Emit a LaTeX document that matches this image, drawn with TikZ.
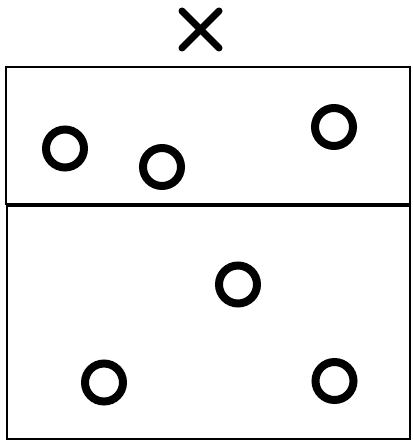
\documentclass[tikz,border=0pt]{standalone}
\begin{document}
\begin{tikzpicture}[x=1pt,y=-1pt,
  ring/.style={circle,draw,line width=8pt,minimum size=38pt,inner sep=0pt},
  box/.style={draw,line width=2.2pt,inner sep=0pt},
  crossline/.style={line width=7pt,line cap=round}]
\useasboundingbox[fill=white] (0,0) rectangle (412,444);
% boxes
\node[box,minimum width=404pt,minimum height=137pt] (topbox) at (208,135.5) {};
\node[box,minimum width=403pt,minimum height=233pt] (botbox) at (208.5,322.5) {};
% cross mark
\coordinate (xa) at (182,11);
\coordinate (xb) at (219,48);
\coordinate (xc) at (182,48);
\coordinate (xd) at (219,11);
\draw[crossline] (xa) -- (xb);
\draw[crossline] (xc) -- (xd);
% rings in the top box
\node[ring] (c1) at (65,148.5) {};
\node[ring] (c2) at (162,167) {};
\node[ring] (c3) at (334,127) {};
% rings in the bottom box
\node[ring] (c4) at (238,284.5) {};
\node[ring] (c5) at (104,382.5) {};
\node[ring] (c6) at (334.5,381) {};
\end{tikzpicture}
\end{document}
